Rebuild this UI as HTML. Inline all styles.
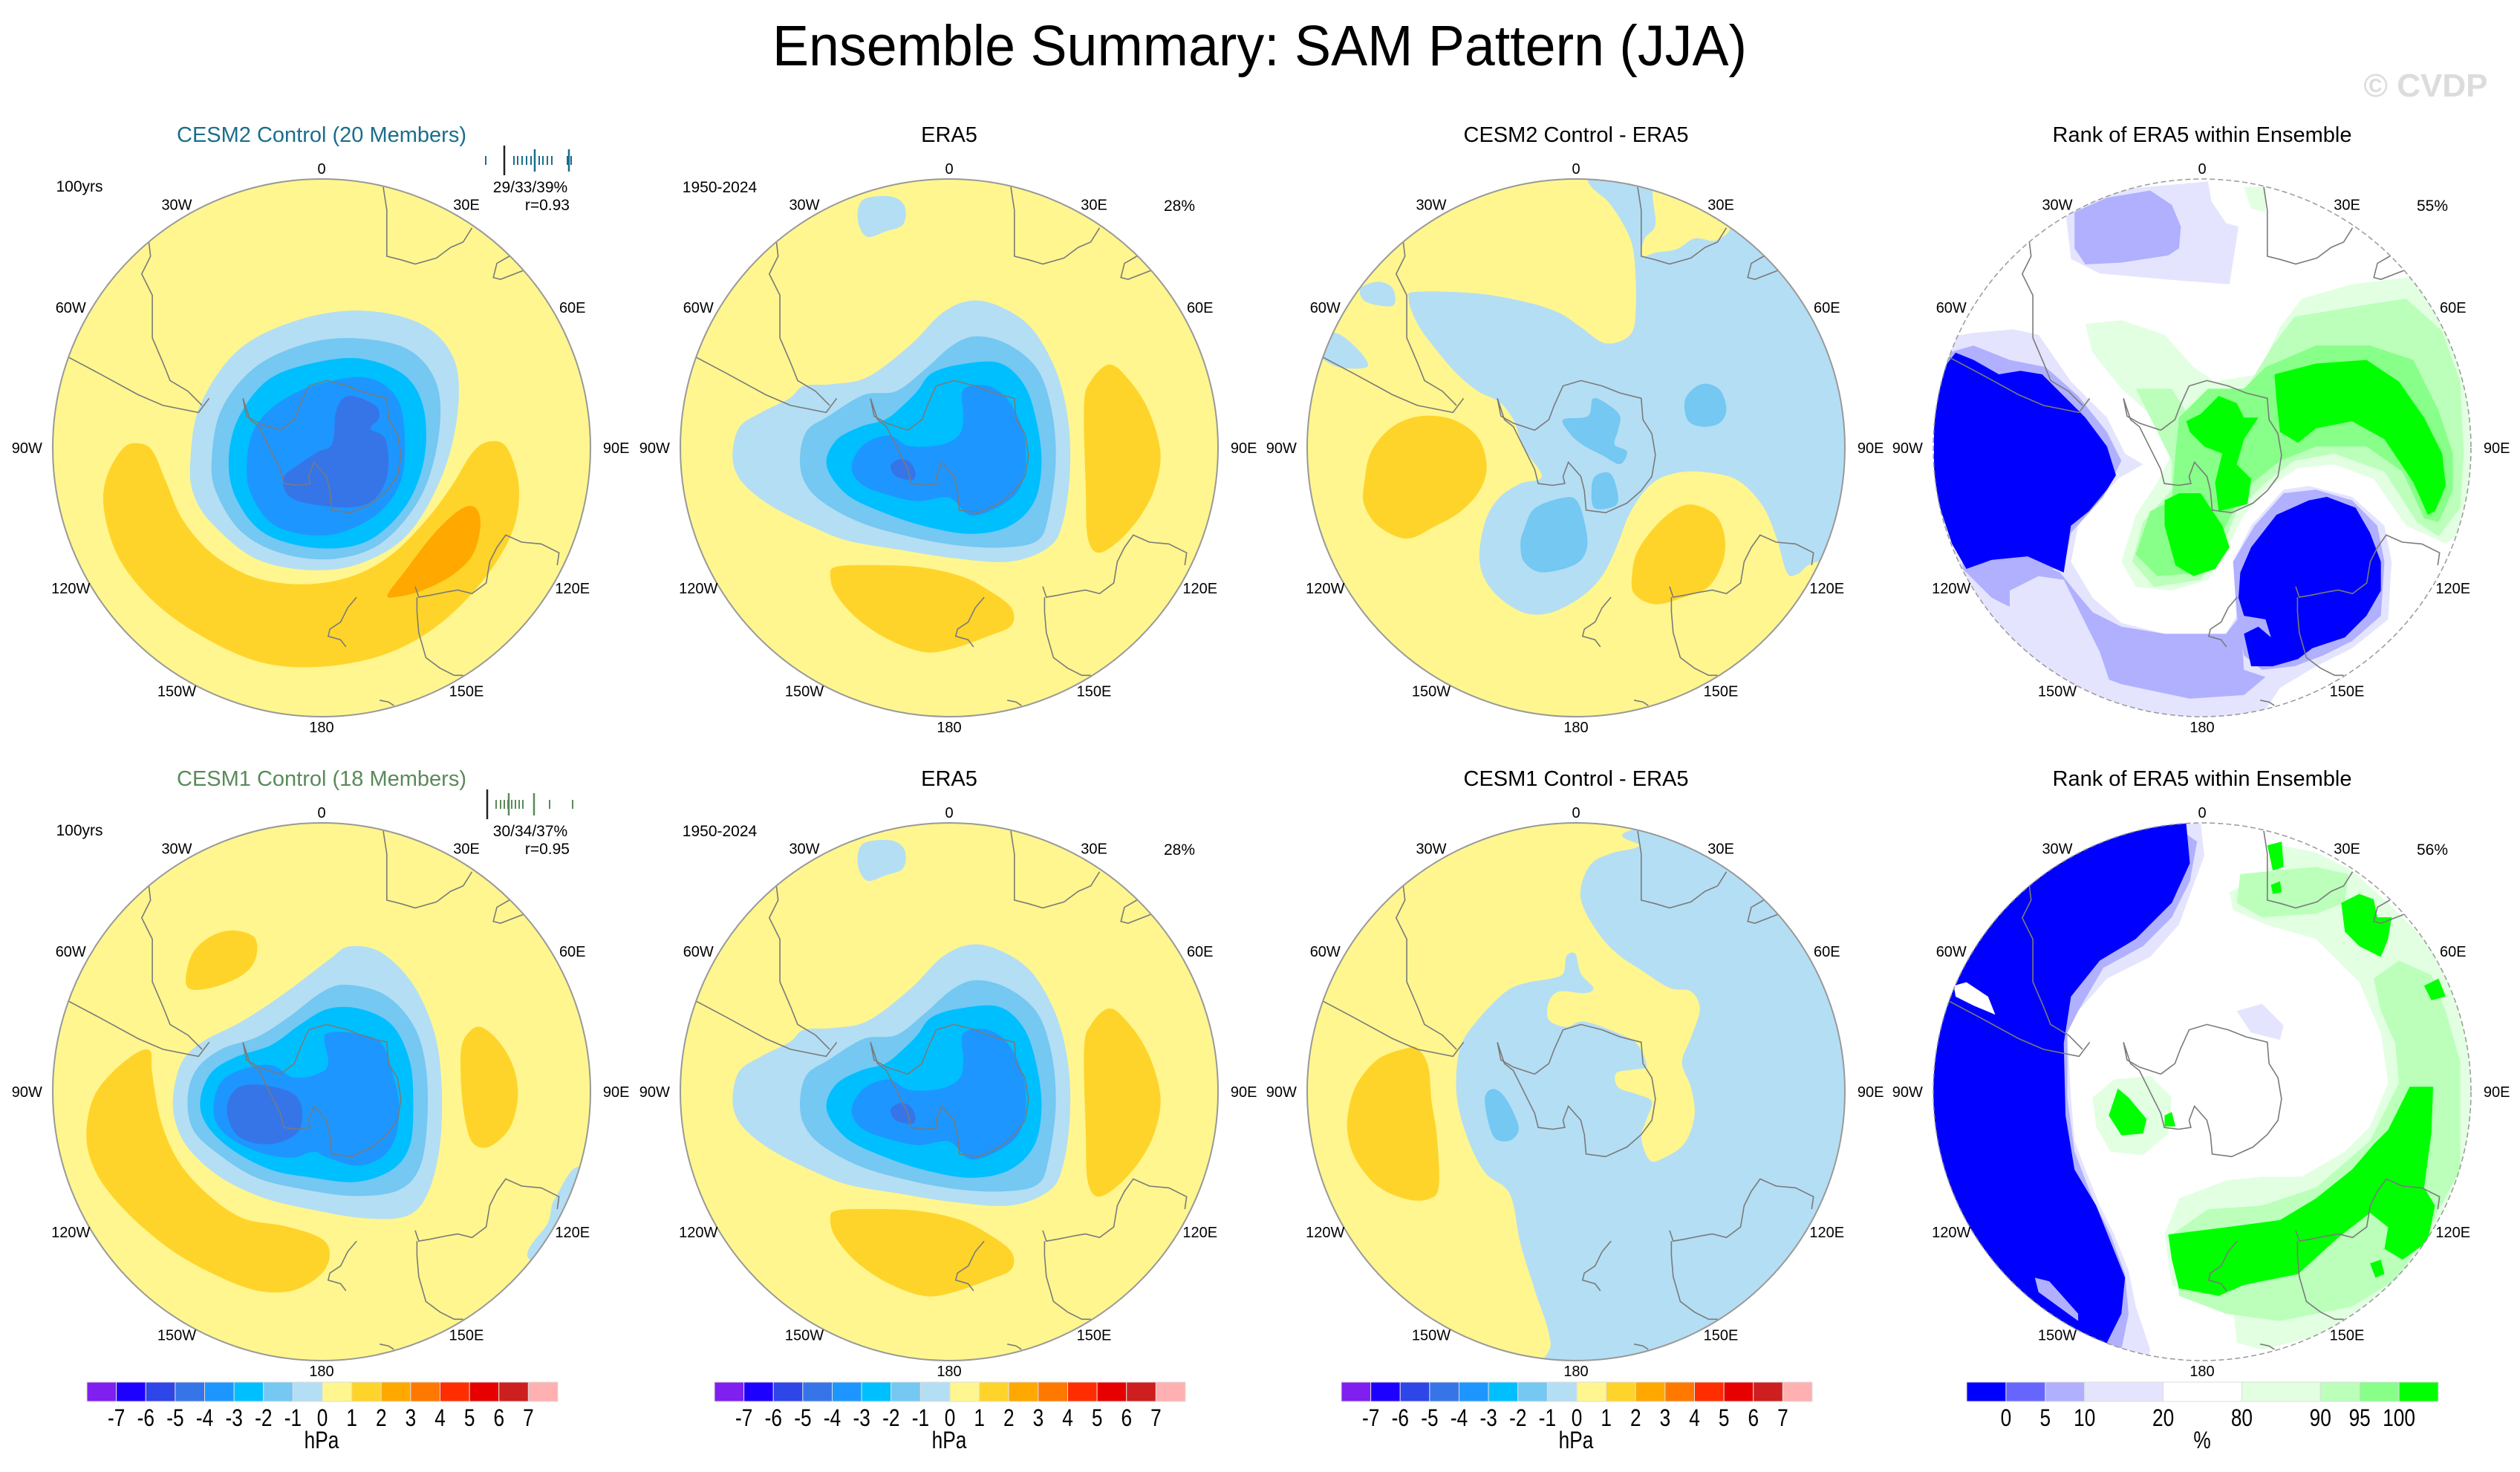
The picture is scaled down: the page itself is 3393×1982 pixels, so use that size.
<!DOCTYPE html>
<html><head><meta charset="utf-8"><title>Ensemble Summary: SAM Pattern (JJA)</title>
<style>
html,body{margin:0;padding:0;background:#fff;}
svg{display:block;font-family:"Liberation Sans",Arial,sans-serif;}
</style></head>
<body>
<svg id="fig" xmlns="http://www.w3.org/2000/svg" width="3393" height="1982" viewBox="0 0 3393 1982">
<rect width="3393" height="1982" fill="#fff"/>
<text x="1696" y="88" font-size="77" text-anchor="middle" textLength="1312" lengthAdjust="spacingAndGlyphs" fill="#000">Ensemble Summary: SAM Pattern (JJA)</text>
<text x="3266" y="130" font-size="44" font-weight="bold" text-anchor="middle" fill="#dcdcdc">© CVDP</text>
<g id="panels"></g>
</svg>
<script>
// ---- colour scale data ----
const hpaColors=['#8020f0','#1e00ff','#2e45e8','#3575e8','#1e96ff','#00bfff','#74c8f2','#b4def4','#fff68f','#ffd42a','#ffa800','#ff7800','#ff2d00','#e60000','#cd1f1f','#ffb0b0'];
const hpaLabels=['-7','-6','-5','-4','-3','-2','-1','0','1','2','3','4','5','6','7'];
const rankColors=['#0000ff','#6666ff','#b0b0ff','#e4e4ff','#ffffff','#e2ffe2','#bbffbb','#88ff88','#00ff00'];
const rankWidths=[1,1,1,2,2,2,1,1,1];
const rankLabels=['0','5','10','20','80','90','95','100'];
// panel text data
const panelTitles=['CESM2 Control (20 Members)','ERA5','CESM2 Control - ERA5','Rank of ERA5 within Ensemble','CESM1 Control (18 Members)','ERA5','CESM1 Control - ERA5','Rank of ERA5 within Ensemble'];
const panelPercents=['','28%','','55%','','28%','','56%'];
const memberStats=['29/33/39%','30/34/37%'];
const patternCorr=['r=0.93','r=0.95'];
const lonLabels=['0','30E','60E','90E','120E','150E','180','150W','120W','90W','60W','30W'];

const NS='http://www.w3.org/2000/svg';
const R=362;
const centers=[[433,603],[1278,603],[2122,603],[2965,603],[433,1470],[1278,1470],[2122,1470],[2965,1470]];
const F1={x:755,y:790,rx:631,ry:631},F7={x:776.5,y:779.5,rx:757,ry:757},F8={x:776.5,y:772.5,rx:757,ry:757},
F9={x:790,y:779.5,rx:757.5,ry:757.5},F10={x:782,y:866,rx:757,ry:668},F11={x:784,y:784,rx:746,ry:746};

function el(tag,attrs,parent){const e=document.createElementNS(NS,tag);for(const k in attrs)e.setAttribute(k,attrs[k]);parent.appendChild(e);return e;}
function tr(pts,F,c){return pts.map(p=>[c[0]+(p[0]-F.x)/F.rx*R,c[1]+(p[1]-F.y)/F.ry*R]);}
function smooth(p){const n=p.length;let d='M'+p[0][0].toFixed(1)+','+p[0][1].toFixed(1);
 for(let i=0;i<n;i++){const p0=p[(i-1+n)%n],p1=p[i],p2=p[(i+1)%n],p3=p[(i+2)%n];
 d+=' C'+(p1[0]+(p2[0]-p0[0])/6).toFixed(1)+','+(p1[1]+(p2[1]-p0[1])/6).toFixed(1)+' '+(p2[0]-(p3[0]-p1[0])/6).toFixed(1)+','+(p2[1]-(p3[1]-p1[1])/6).toFixed(1)+' '+p2[0].toFixed(1)+','+p2[1].toFixed(1);}
 return d+'Z';}
function poly(p){return 'M'+p.map(q=>q[0].toFixed(1)+','+q[1].toFixed(1)).join(' L')+'Z';}

// coastlines (frame F7)
const coasts=[
 [[660,730],[700,700],[715,660],[740,605],[790,590],[850,605],[900,625],[960,640],[965,700],[990,740],[1000,800],[990,860],[960,900],[920,935],[860,962],[805,955],[800,900],[790,860],[755,820],[740,860],[745,880],[710,885],[670,880],[660,840],[640,800],[620,760],[600,720],[575,700],[555,640],[565,690],[600,710],[630,720],[660,730]],
 [[65,525],[150,570],[260,630],[330,660],[430,680],[460,640]],
 [[290,200],[295,240],[270,290],[300,350],[300,470],[330,540],[350,590],[400,620],[440,660]],
 [[950,45],[960,110],[960,240],[1000,250],[1040,262],[1100,245],[1140,215],[1175,200],[1200,160]],
 [[1305,240],[1270,260],[1260,300],[1280,305],[1345,280]],
 [[1040,1170],[1050,1200],[1080,1195],[1130,1185],[1160,1180],[1200,1190],[1240,1160],[1250,1100],[1270,1060],[1295,1025],[1340,1045],[1395,1050],[1445,1075],[1440,1110]],
 [[1045,1200],[1045,1240],[1050,1300],[1070,1370],[1110,1400],[1150,1420],[1175,1420]],
 [[875,1200],[850,1230],[830,1270],[800,1290],[795,1310],[830,1320],[845,1340]],
 [[940,1490],[965,1495],[980,1505]]
];

const H=(i)=>hpaColors[i], K=(i)=>rankColors[i];
const era5=[
 [H(7),F9,[[535,100],[560,75],[630,72],[665,100],[660,150],[610,170],[560,185],[535,150]]],
 [H(7),F9,[[180,790],[200,720],[260,680],[340,640],[380,605],[460,600],[560,580],[680,490],[770,400],[850,365],[930,380],[1020,440],[1090,560],[1125,700],[1130,850],[1110,990],[1070,1060],[960,1100],[800,1090],[640,1065],[500,1040],[400,1000],[300,950],[230,900],[190,850]]],
 [H(6),F9,[[370,800],[390,730],[450,690],[550,630],[640,620],[720,560],[800,490],[870,465],[960,490],[1040,560],[1080,680],[1090,820],[1070,970],[1040,1040],[950,1060],[820,1055],[680,1030],[540,990],[430,930],[380,870]]],
 [H(5),F9,[[445,830],[470,760],[540,720],[610,700],[660,660],[700,620],[740,570],[820,545],[930,540],[1000,600],[1035,700],[1050,820],[1030,930],[960,1000],[850,1022],[720,1000],[600,960],[500,910]]],
 [H(4),F9,[[515,830],[550,770],[620,745],[680,775],[770,770],[820,740],[830,690],[830,615],[900,605],[960,650],[1000,740],[1005,830],[985,900],[930,945],[850,970],[790,920],[700,930],[610,910],[540,880]]],
 [H(3),F9,[[625,830],[650,812],[680,820],[695,850],[685,870],[640,860]]],
 [H(9),F9,[[1170,660],[1190,590],[1240,545],[1290,580],[1350,670],[1385,790],[1370,890],[1330,970],[1270,1040],[1210,1075],[1180,1030],[1175,900]]],
 [H(9),F9,[[455,1140],[470,1115],[560,1110],[700,1115],[820,1140],[900,1180],[965,1230],[965,1280],[900,1310],[800,1345],[720,1355],[620,1320],[530,1260],[470,1190]]]
];
const shapes=[
 [ // CESM2
  [H(7),F1,[[447,820],[470,690],[560,560],[700,490],[850,468],[990,500],[1065,580],[1075,700],[1040,850],[960,990],[850,1060],[730,1077],[600,1050],[500,970],[455,900]]],
  [H(6),F1,[[497,820],[520,700],[600,600],[720,545],[840,533],[960,560],[1025,640],[1030,760],[990,900],[900,1010],[790,1050],[670,1040],[570,990],[510,900]]],
  [H(5),F1,[[537,820],[560,720],[630,630],[740,590],[850,581],[950,620],[995,700],[995,820],[950,930],[860,1010],[740,1025],[620,990],[555,910]]],
  [H(4),F1,[[580,820],[600,740],[660,680],[750,640],[860,625],[930,670],[950,760],[940,870],[880,950],[770,995],[650,975],[590,900]]],
  [H(3),F1,[[665,860],[700,830],[745,800],[780,780],[790,700],[820,668],[880,690],[890,720],[870,745],[905,770],[910,850],[880,910],[820,930],[720,920],[675,900]]],
  [H(9),F1,[[290,790],[250,860],[245,940],[280,1050],[360,1150],[470,1230],[600,1290],[720,1305],[850,1290],[960,1250],[1060,1180],[1150,1080],[1205,980],[1218,880],[1190,790],[1150,775],[1110,800],[1060,880],[1000,960],[920,1040],[830,1090],[720,1110],[600,1095],[500,1040],[430,960],[390,870],[360,800],[330,780]]],
  [H(10),F1,[[910,1135],[950,1080],[1020,990],[1080,935],[1115,930],[1128,970],[1110,1040],[1060,1090],[990,1125],[930,1140]]]
 ],
 era5,
 [ // CESM2 - ERA5
  [H(7),F7,[[810,28],[870,90],[920,170],[940,240],[945,380],[930,460],[860,485],[790,440],[730,400],[640,370],[500,345],[330,340],[305,360],[330,430],[380,500],[440,570],[500,620],[560,650],[600,700],[630,780],[680,860],[620,880],[560,920],[520,990],[505,1100],[540,1180],[620,1240],[700,1245],[790,1200],[850,1140],[890,1060],[930,960],[990,880],[1060,850],[1140,848],[1230,870],[1300,940],[1340,1030],[1370,1130],[1400,1135],[1460,1100],[1650,1100],[1650,-80],[810,-80]]],
  [H(8),F7,[[1000,40],[1000,150],[970,190],[960,240],[1000,230],[1060,220],[1110,190],[1170,195],[1210,150],[1120,60]]],
  [H(7),F7,[[170,330],[220,312],[260,330],[265,375],[230,380],[180,365]]],
  [H(7),F7,[[90,455],[150,490],[190,550],[100,550],[40,500]]],
  [H(6),F7,[[1085,640],[1130,600],[1180,615],[1200,670],[1180,710],[1130,720],[1090,700]]],
  [H(6),F7,[[740,700],[810,690],[825,640],[870,660],[900,690],[895,730],[885,770],[920,790],[900,825],[850,800],[810,780],[780,760],[760,740]]],
  [H(6),F7,[[830,860],[870,850],[890,890],[890,940],[830,950],[820,900]]],
  [H(6),F7,[[630,1010],[660,950],[740,920],[780,930],[805,1010],[805,1070],[770,1110],[680,1130],[630,1100],[620,1050]]],
  [H(9),F7,[[180,880],[200,790],[260,720],[340,690],[430,700],[500,750],[525,830],[505,900],[450,960],[380,1000],[300,1035],[220,1000],[180,940]]],
  [H(9),F7,[[935,1130],[950,1070],[1000,1000],[1060,950],[1110,940],[1170,970],[1195,1030],[1190,1100],[1150,1170],[1080,1200],[1000,1220],[940,1190]]]
 ],
 [ // rank CESM2
  [K(3),F11,[[405,130],[520,70],[800,45],[810,100],[850,160],[885,170],[860,330],[720,320],[500,300],[420,260]]],
  [K(3),F11,[[60,480],[150,465],[260,455],[330,470],[420,600],[520,700],[570,800],[620,830],[550,870],[440,1000],[420,1100],[480,1200],[560,1270],[680,1300],[850,1300],[880,1250],[870,1100],[920,1000],[1010,900],[1080,890],[1200,920],[1290,1000],[1310,1100],[1300,1260],[1200,1340],[1100,1390],[1000,1450],[900,1600],[-50,1600],[-50,480]]],
  [K(2),F11,[[430,130],[520,90],[640,70],[700,110],[725,170],[720,230],[690,250],[560,270],[460,275],[430,230]]],
  [K(2),F11,[[120,1120],[300,1090],[390,1130],[430,1180],[480,1240],[560,1280],[680,1300],[850,1300],[890,1250],[900,1400],[960,1420],[900,1470],[750,1480],[560,1440],[400,1380],[330,1300],[260,1230],[200,1200]]],
  [K(3),F11,[[250,1180],[330,1140],[400,1150],[450,1250],[500,1350],[540,1470],[400,1420],[300,1330],[250,1260]]],
  [K(2),F11,[[80,520],[150,500],[250,540],[350,560],[440,640],[520,740],[560,820],[510,920],[420,1020],[400,1120],[120,1120]]],
  [K(2),F11,[[870,1100],[930,1000],[1010,910],[1100,900],[1200,930],[1270,1000],[1290,1100],[1280,1250],[1200,1320],[1120,1360],[1040,1390],[950,1400],[900,1360],[880,1250]]],
  [K(0),F11,[[40,580],[60,570],[100,520],[150,540],[220,580],[280,570],[340,580],[400,640],[460,700],[520,780],[545,860],[520,900],[470,960],[420,1000],[400,1130],[300,1085],[200,1095],[130,1120],[90,1050],[40,900]]],
  [K(0),F11,[[890,1130],[920,1060],[990,970],[1080,930],[1130,920],[1210,950],[1250,1020],[1280,1100],[1280,1180],[1240,1250],[1180,1310],[1090,1340],[1050,1370],[980,1390],[920,1390],[900,1300],[940,1280],[975,1310],[960,1260],[900,1250],[885,1200]]],
  [K(5),F11,[[460,440],[560,430],[680,470],[760,560],[820,600],[940,580],[1000,450],[1060,370],[1200,330],[1360,310],[1460,420],[1530,650],[1530,1000],[1460,1050],[1350,1000],[1260,870],[1150,830],[1050,840],[960,900],[900,970],[860,1050],[800,1150],[700,1180],[600,1170],[560,1100],[600,970],[660,880],[700,800],[650,700],[560,620],[480,520]]],
  [K(5),F11,[[900,60],[960,60],[960,130],[920,120]]],
  [K(6),F11,[[980,500],[1040,420],[1220,390],[1350,370],[1450,460],[1500,600],[1510,800],[1500,950],[1440,1030],[1380,990],[1290,850],[1150,800],[1040,820],[960,880],[880,960],[840,1060],[780,1150],[650,1170],[590,1100],[620,990],[700,900],[700,820],[640,700],[600,620],[700,620],[750,700],[800,630],[900,630]]],
  [K(7),F11,[[960,560],[1100,500],[1250,500],[1370,540],[1440,680],[1480,800],[1480,900],[1440,990],[1400,980],[1340,850],[1240,780],[1100,780],[1000,820],[900,900],[840,1020],[780,1130],[660,1140],[600,1080],[640,960],[700,930],[710,800],[720,700],[800,620],[900,620]]],
  [K(8),F11,[[985,580],[1100,550],[1240,540],[1330,600],[1400,700],[1450,800],[1460,890],[1430,960],[1410,970],[1370,880],[1290,760],[1200,710],[1100,730],[1050,770],[1000,740],[990,650]]],
  [K(8),F11,[[740,710],[780,690],[830,640],[880,660],[900,700],[940,700],[900,760],[880,830],[920,870],[910,940],[830,960],[820,880],[840,800],[790,780],[750,740]]],
  [K(8),F11,[[680,930],[720,910],[780,910],[840,1000],[860,1060],[820,1120],[760,1140],[710,1110],[680,1000]]]
 ],
 [ // CESM1
  [H(7),F10,[[365,870],[390,790],[450,740],[560,690],[680,620],[800,540],[860,505],[950,520],[1040,600],[1100,720],[1120,850],[1115,1000],[1080,1120],[1020,1175],[900,1180],[760,1160],[620,1130],[500,1080],[410,1010],[370,940]]],
  [H(6),F10,[[405,880],[430,810],[500,760],[600,730],[690,680],[780,620],[850,600],[960,625],[1040,700],[1075,800],[1080,930],[1060,1050],[1000,1110],[880,1125],[740,1110],[600,1080],[490,1020],[420,960]]],
  [H(5),F10,[[440,890],[470,820],[540,780],[640,750],[720,700],[800,660],[890,660],[980,700],[1030,790],[1040,900],[1030,1000],[980,1060],[880,1090],[760,1080],[640,1060],[530,1010],[460,950]]],
  [H(4),F10,[[478,900],[500,840],[560,810],[640,800],[700,830],[760,825],[800,800],[790,740],[800,720],[870,720],[950,745],[985,830],[1000,900],[990,980],[950,1030],[880,1050],[800,1030],[760,1015],[700,1030],[620,1020],[540,990],[490,950]]],
  [H(3),F10,[[515,910],[540,860],[600,848],[690,865],[725,900],[720,960],[670,990],[600,995],[540,970]]],
  [H(9),F10,[[120,960],[140,880],[190,820],[260,770],[300,765],[305,820],[330,940],[380,1040],[460,1120],[560,1180],[680,1200],[780,1230],[805,1270],[780,1320],[700,1360],[600,1360],[480,1320],[360,1260],[250,1180],[170,1100],[130,1030]]],
  [H(9),F10,[[400,580],[420,520],[470,480],[530,465],[590,480],[600,520],[580,560],[530,590],[460,610],[410,610]]],
  [H(9),F10,[[1175,760],[1195,720],[1230,705],[1280,740],[1320,800],[1335,870],[1320,940],[1290,980],[1245,1005],[1205,990],[1185,930],[1175,850]]],
  [H(7),F10,[[1520,1060],[1440,1130],[1420,1190],[1370,1285],[1620,1320]]]
 ],
 era5,
 [ // CESM1 - ERA5
  [H(7),F8,[[955,30],[1650,-80],[1650,1650],[700,1650],[705,1480],[660,1330],[620,1200],[590,1060],[520,1000],[470,900],[440,780],[450,650],[500,570],[580,490],[640,465],[700,455],[740,440],[750,390],[775,385],[790,440],[825,480],[800,495],[730,490],[700,520],[700,570],[750,590],[800,575],[900,610],[950,640],[975,700],[940,710],[890,720],[895,760],[950,780],[990,800],[975,850],[960,900],[980,960],[1010,965],[1080,920],[1110,840],[1100,760],[1075,690],[1100,620],[1125,540],[1100,490],[1040,480],[960,430],[900,390],[850,340],[800,260],[790,200],[820,130],[880,100],[955,80]]],
  [H(6),F8,[[520,790],[540,765],[570,780],[600,830],[615,880],[590,910],[550,905],[530,860]]],
  [H(9),F8,[[135,830],[160,750],[220,680],[300,650],[330,650],[360,700],[370,800],[385,900],[390,1040],[360,1075],[300,1075],[220,1040],[160,970],[135,900]]]
 ],
 [ // rank CESM1
  [K(5),F11,[[860,230],[960,180],[1000,100],[1100,120],[1200,170],[1300,260],[1420,380],[1490,530],[1530,700],[1530,1000],[1460,1200],[1300,1370],[1150,1450],[950,1500],[880,1480],[870,1380],[800,1370],[700,1320],[680,1180],[720,1080],[850,1030],[950,1020],[1060,1020],[1180,950],[1250,880],[1300,760],[1280,620],[1220,480],[1100,360],[960,320],[870,280]]],
  [K(5),F11,[[480,800],[540,750],[640,740],[700,800],[690,900],[620,960],[530,950],[490,880]]],
  [K(3),F11,[[880,560],[950,540],[1010,600],[1000,640],[920,620]]],
  [K(6),F11,[[890,180],[1100,160],[1190,180],[1180,260],[1100,290],[950,300],[880,260]]],
  [K(6),F11,[[1260,470],[1330,420],[1420,460],[1460,560],[1500,700],[1500,1000],[1420,1150],[1330,1300],[1200,1380],[1000,1420],[850,1400],[720,1350],[700,1180],[800,1110],[950,1100],[1100,1050],[1250,920],[1330,760],[1320,650],[1280,560]]],
  [K(3),F11,[[700,40],[780,40],[790,130],[760,210],[720,320],[640,410],[520,470],[440,560],[410,620],[420,800],[430,920],[460,1000],[500,1100],[540,1180],[580,1280],[600,1380],[640,1500],[600,1650],[-100,1650],[-100,-100],[700,-100]]],
  [K(2),F11,[[700,40],[770,90],[750,200],[700,300],[620,380],[510,440],[440,560],[410,620],[410,800],[430,950],[480,1080],[530,1180],[570,1290],[580,1400],[560,1500],[500,1650],[-100,1650],[-100,-100],[700,-100]]],
  [K(0),F11,[[740,40],[750,150],[700,260],[600,360],[500,420],[420,520],[400,650],[405,850],[430,1000],[490,1100],[530,1200],[570,1300],[560,1400],[520,1480],[400,1650],[-100,1650],[-100,-100],[740,-100]]],
  [K(4),F11,[[95,490],[130,480],[190,520],[210,570],[150,545],[100,520]]],
  [K(2),F11,[[320,1300],[360,1310],[440,1400],[440,1420],[330,1340]]],
  [K(8),F11,[[690,1180],[850,1160],[1000,1140],[1100,1080],[1200,1000],[1260,930],[1300,890],[1360,770],[1425,770],[1420,900],[1400,1050],[1430,1100],[1410,1200],[1340,1250],[1290,1220],[1300,1160],[1250,1120],[1160,1190],[1050,1290],[900,1320],[830,1350],[720,1330],[700,1250]]],
  [K(8),F11,[[965,100],[1005,90],[1010,160],[980,170]]],
  [K(8),F11,[[975,210],[1000,200],[1005,230],[980,235]]],
  [K(8),F11,[[1170,260],[1220,235],[1260,250],[1270,300],[1310,300],[1300,360],[1280,410],[1220,380],[1180,340]]],
  [K(8),F11,[[1400,490],[1440,470],[1460,520],[1420,530]]],
  [K(8),F11,[[525,850],[550,775],[580,800],[630,860],[620,900],[560,905]]],
  [K(8),F11,[[680,850],[700,840],[710,880],[680,880]]],
  [K(8),F11,[[1250,1260],[1280,1250],[1290,1290],[1265,1300]]]
 ]
];

const lonAng=[0,30,60,90,120,150,180,210,240,270,300,330];
const root=document.getElementById('panels');
const defs=el('defs',{},root);

centers.forEach((c,pi)=>{
  const isRank=(pi%4===3);
  const g=el('g',{},root);
  
  
  const cp=el('clipPath',{id:'clip'+pi},defs);
  el('circle',{cx:c[0],cy:c[1],r:R},cp);
  const mg=el('g',{'clip-path':'url(#clip'+pi+')'},g);
  
  
  const base=el('circle',{cx:c[0],cy:c[1],r:R,fill:isRank?'#ffffff':hpaColors[8]},mg);
  
  
  shapes[pi].forEach((s,si)=>{
    const pts=tr(s[2],s[1],c);
    const p=el('path',{d:isRank?poly(pts):smooth(pts),fill:s[0]},mg);
    
    
  });
  coasts.forEach(cl=>{
    const pts=tr(cl,F7,c);
    const p=el('path',{d:'M'+pts.map(q=>q[0].toFixed(1)+','+q[1].toFixed(1)).join(' L'),fill:'none',stroke:'#7a7a7a','stroke-width':1.6},mg);
    
    
  });
  const ring=el('circle',{cx:c[0],cy:c[1],r:R,fill:'none',stroke:'#999','stroke-width':isRank?1.5:2,'stroke-dasharray':isRank?'7,4':'none'},g);
  
  
  lonLabels.forEach((t,li)=>{
    const a=lonAng[li]*Math.PI/180;
    const rr=(li%3===0)?376:390;
    const x=c[0]+Math.sin(a)*rr*(li%3===0?1.055:1.0), y=c[1]-Math.cos(a)*rr*(li%3===0?1:0.97);
    const tx=el('text',{x:x,y:y+7,'font-size':20,'text-anchor':'middle',fill:'#000'},g);
    tx.textContent=t;
    
    
  });
  const tcol=pi===0?'#1a6e8c':(pi===4?'#5a8a5a':'#000');
  const tt=el('text',{x:c[0],y:c[1]-412,'font-size':29,'text-anchor':'middle',fill:tcol},g);
  tt.textContent=panelTitles[pi];
  
  
  if(panelPercents[pi]){
    const pt=el('text',{x:c[0]+310,y:c[1]-319,'font-size':21,'text-anchor':'middle',fill:'#000'},g);
    pt.textContent=panelPercents[pi];
    
    
  }
  if(pi%4===1){
    const yt=el('text',{x:c[0]-309,y:c[1]-344,'font-size':21,'text-anchor':'middle',fill:'#000'},g);
    yt.textContent='1950-2024';
    
    
  }
  if(pi%4===0){
    const k=pi/4;
    const yt=el('text',{x:c[0]-326,y:c[1]-345,'font-size':21,'text-anchor':'middle',fill:'#000'},g);
    yt.textContent='100yrs';
    
    
    const st=el('text',{x:c[0]+281,y:c[1]-344,'font-size':21,'text-anchor':'middle',fill:'#000'},g);
    st.textContent=memberStats[k];
    
    
    const rt=el('text',{x:c[0]+334,y:c[1]-320,'font-size':21,'text-anchor':'end',fill:'#000'},g);
    rt.textContent=patternCorr[k];
    
    
    const tcl=k===0?'#1a6e8c':'#5a8a5a';
    const small=k===0?[221,259,264,270,276,282,293,298,304,310,331,336]:[235,241,246,251,256,261,266,271,307,338];
    const tall=k===0?[287,333]:[252,286];
    const dark=k===0?246:223;
    small.forEach(dx=>{const l=el('line',{x1:c[0]+dx,x2:c[0]+dx,y1:c[1]-393,y2:c[1]-381,stroke:tcl,'stroke-width':2},g);
      
      });
    tall.forEach(dx=>{const l=el('line',{x1:c[0]+dx,x2:c[0]+dx,y1:c[1]-402,y2:c[1]-372,stroke:tcl,'stroke-width':2.5},g);
      
      });
    const dl=el('line',{x1:c[0]+dark,x2:c[0]+dark,y1:c[1]-407,y2:c[1]-367,stroke:'#222','stroke-width':2.5},g);
    
    
  }
});

function addText(parent,x,y,t,size){
  const tx=el('text',{transform:'translate('+x+','+y+') scale(0.82,1)','font-size':size,'text-anchor':'middle',fill:'#000'},parent);
  tx.textContent=t;
  return tx;
}
[0,1,2].forEach(i=>{
  const cx=centers[4+i][0];
  const g=el('g',{},root);
  
  
  const x0=cx-316, w=634/hpaColors.length;
  hpaColors.forEach((col,j)=>{
    const r=el('rect',{x:x0+j*w,y:1861,width:w,height:26,fill:col,stroke:'#ddd','stroke-width':1},g);
    
    
  });
  hpaLabels.forEach((t,j)=>{
    const tx=addText(g,x0+(j+1)*w,1920,t,32);
    
    
  });
  const u=addText(g,cx,1950,'hPa',32);
  
  
});
{
  const cx=centers[7][0];
  const g=el('g',{},root);
  
  
  const total=rankWidths.reduce((a,b)=>a+b,0), unit=635/total;
  let x=cx-317;
  const bounds=[];
  rankColors.forEach((col,j)=>{
    const w=rankWidths[j]*unit;
    const r=el('rect',{x:x,y:1861,width:w,height:26,fill:col,stroke:'#ddd','stroke-width':1},g);
    
    
    x+=w; bounds.push(x);
  });
  rankLabels.forEach((t,j)=>{
    const tx=addText(g,bounds[j],1920,t,32);
    
    
  });
  const u=addText(g,cx,1950,'%',32);
  
  
}
</script>
</body></html>
